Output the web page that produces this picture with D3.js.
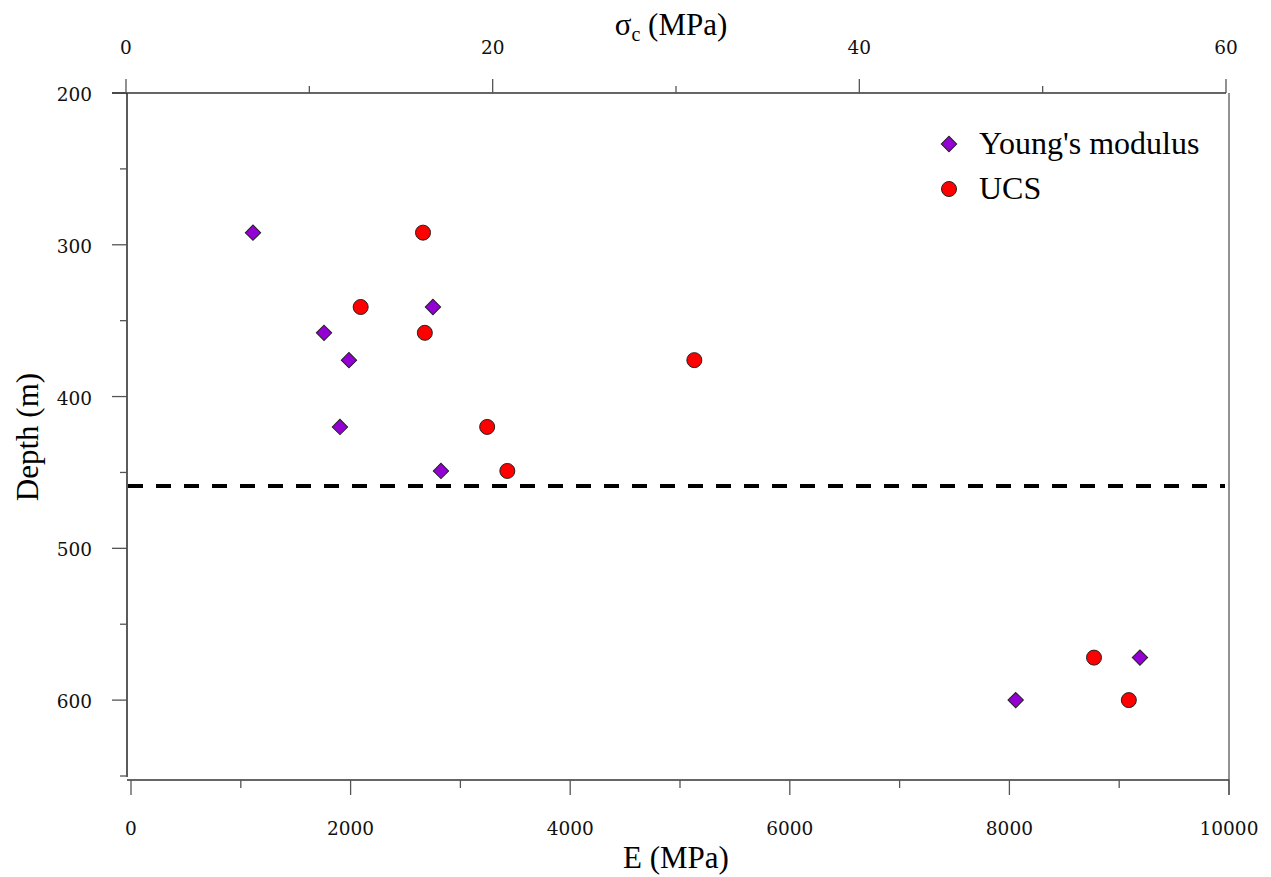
<!DOCTYPE html>
<html>
<head>
<meta charset="utf-8">
<script src="https://cdn.jsdelivr.net/npm/d3@7"></script>
<style>
  html, body { margin: 0; padding: 0; background: #fff; }
  svg { display: block; }
  .tick-label { font-family: "DejaVu Serif", serif; font-size: 18.5px; fill: #111; }
  .title { font-family: "Liberation Serif", "Times New Roman", serif; font-size: 31px; fill: #000; }
  .legend { font-family: "Liberation Serif", "Times New Roman", serif; font-size: 32px; fill: #000; }
</style>
</head>
<body>
<svg id="chart" width="1271" height="877"></svg>
<script>
// Sample depths (m)
const depths = [292, 341, 358, 376, 420, 449, 572, 600];
// Young's modulus E (MPa) at each depth
const youngsModulus = [1111, 2750, 1758, 1985, 1903, 2823, 9189, 8057];
// Uniaxial compressive strength σc (MPa) at each depth
const ucs = [16.2, 12.8, 16.3, 31.0, 19.7, 20.8, 52.8, 54.7];
// Boundary depth shown as a dashed line (m)
const boundaryDepth = 459;

// Tick values
const eMajor = [0, 2000, 4000, 6000, 8000, 10000];
const eMinor = [1000, 3000, 5000, 7000, 9000];
const sMajor = [0, 20, 40, 60];
const sMinor = [10, 30, 50];
const dMajor = [200, 300, 400, 500, 600];
const dMinor = [250, 350, 450, 550, 650];

const svg = d3.select("#chart");

const xE = d3.scaleLinear().domain([0, 10000]).range([131, 1229]);
const xS = d3.scaleLinear().domain([0, 60]).range([126, 1226]);
const yD = d3.scaleLinear().domain([200, 650]).range([93, 776]);

const axisColor = "#333";
const tickColor = "#555";

// ---- Left axis (depth) ----
const leftAxis = svg.append("g");
leftAxis.append("line").attr("x1", 127).attr("x2", 127).attr("y1", 93).attr("y2", 777)
  .attr("stroke", axisColor).attr("stroke-width", 1.6);
leftAxis.selectAll(".dmaj").data(dMajor).join("line").attr("class", "dmaj")
  .attr("x1", 112).attr("x2", 127).attr("y1", d => yD(d)).attr("y2", d => yD(d))
  .attr("stroke", tickColor).attr("stroke-width", 1.3);
leftAxis.selectAll(".dmin").data(dMinor).join("line").attr("class", "dmin")
  .attr("x1", 120).attr("x2", 127).attr("y1", d => yD(d)).attr("y2", d => yD(d))
  .attr("stroke", tickColor).attr("stroke-width", 1.3);
leftAxis.selectAll("text").data(dMajor).join("text")
  .attr("class", "tick-label").attr("x", 92).attr("y", d => yD(d) + 8)
  .attr("text-anchor", "end").text(d => d);

// ---- Top axis (σc) ----
const topAxis = svg.append("g");
topAxis.append("line").attr("x1", 112).attr("x2", 1226).attr("y1", 93).attr("y2", 93)
  .attr("stroke", axisColor).attr("stroke-width", 1.6);
topAxis.selectAll(".smaj").data(sMajor).join("line").attr("class", "smaj")
  .attr("x1", d => xS(d)).attr("x2", d => xS(d)).attr("y1", 79).attr("y2", 93)
  .attr("stroke", tickColor).attr("stroke-width", 1.3);
topAxis.selectAll(".smin").data(sMinor).join("line").attr("class", "smin")
  .attr("x1", d => xS(d)).attr("x2", d => xS(d)).attr("y1", 86).attr("y2", 93)
  .attr("stroke", tickColor).attr("stroke-width", 1.3);
topAxis.selectAll("text").data(sMajor).join("text")
  .attr("class", "tick-label").attr("x", d => xS(d)).attr("y", 54)
  .attr("text-anchor", "middle").text(d => d);

// ---- Right frame line ----
svg.append("line").attr("x1", 1229).attr("x2", 1229).attr("y1", 93).attr("y2", 795)
  .attr("stroke", "#777").attr("stroke-width", 1.6);

// ---- Bottom axis (E) ----
const bottomAxis = svg.append("g");
bottomAxis.append("line").attr("x1", 127).attr("x2", 1229).attr("y1", 780).attr("y2", 780)
  .attr("stroke", axisColor).attr("stroke-width", 1.6);
bottomAxis.selectAll(".emaj").data(eMajor).join("line").attr("class", "emaj")
  .attr("x1", d => xE(d)).attr("x2", d => xE(d)).attr("y1", 780).attr("y2", 795)
  .attr("stroke", tickColor).attr("stroke-width", 1.3);
bottomAxis.selectAll(".emin").data(eMinor).join("line").attr("class", "emin")
  .attr("x1", d => xE(d)).attr("x2", d => xE(d)).attr("y1", 780).attr("y2", 788)
  .attr("stroke", tickColor).attr("stroke-width", 1.3);
bottomAxis.selectAll("text").data(eMajor).join("text")
  .attr("class", "tick-label").attr("x", d => xE(d)).attr("y", 835)
  .attr("text-anchor", "middle").text(d => d);

// ---- Axis titles ----
svg.append("text").attr("class", "title")
  .attr("transform", "translate(38,437) rotate(-90)")
  .attr("text-anchor", "middle").text("Depth (m)");
svg.append("text").attr("class", "title")
  .attr("x", 676).attr("y", 868).attr("text-anchor", "middle").text("E (MPa)");
const sTitle = svg.append("text").attr("class", "title")
  .attr("x", 671).attr("y", 35).attr("text-anchor", "middle");
sTitle.append("tspan").text("σ");
sTitle.append("tspan").attr("font-size", "20px").attr("dy", 6).text("c");
sTitle.append("tspan").attr("dy", -6).text(" (MPa)");

// ---- Boundary dashed line ----
svg.append("line")
  .attr("x1", 128).attr("x2", 1225)
  .attr("y1", yD(boundaryDepth)).attr("y2", yD(boundaryDepth))
  .attr("stroke", "#000").attr("stroke-width", 4)
  .attr("stroke-dasharray", "15,13");

// ---- Markers ----
const diamondPath = d3.symbol().type(d3.symbolSquare).size(118)();

const ymData = depths.map((d, i) => ({ depth: d, value: youngsModulus[i] }));
const ucsData = depths.map((d, i) => ({ depth: d, value: ucs[i] }));

svg.append("g").selectAll("path").data(ymData).join("path")
  .attr("d", diamondPath)
  .attr("transform", d => `translate(${xE(d.value)},${yD(d.depth)}) rotate(45)`)
  .attr("fill", "#9400D3").attr("stroke", "#222").attr("stroke-width", 1);

svg.append("g").selectAll("circle").data(ucsData).join("circle")
  .attr("cx", d => xS(d.value)).attr("cy", d => yD(d.depth)).attr("r", 7.5)
  .attr("fill", "#FF0000").attr("stroke", "#222").attr("stroke-width", 1);

// ---- Legend ----
const legend = svg.append("g");
legend.append("path").attr("d", diamondPath)
  .attr("transform", "translate(949,144) rotate(45)")
  .attr("fill", "#9400D3").attr("stroke", "#222").attr("stroke-width", 1);
legend.append("text").attr("class", "legend").attr("x", 979).attr("y", 154).text("Young's modulus");
legend.append("circle").attr("cx", 949).attr("cy", 189).attr("r", 7.5)
  .attr("fill", "#FF0000").attr("stroke", "#222").attr("stroke-width", 1);
legend.append("text").attr("class", "legend").attr("x", 979).attr("y", 199).text("UCS");
</script>
</body>
</html>
